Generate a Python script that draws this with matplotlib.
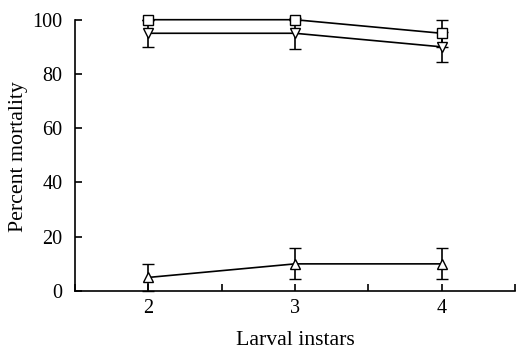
import matplotlib
matplotlib.use("Agg")
import matplotlib.pyplot as plt
from matplotlib.ticker import MultipleLocator

instars = [2, 3, 4]
sq_vals = [100, 100, 95]
sq_err = [0, 0, 5]
tdown_vals = [95, 95, 90]
tdown_err = [5, 5.8, 5.6]
tup_vals = [5, 10, 10]
tup_err = [5, 5.7, 5.7]

plt.rcParams['font.family'] = ['Liberation Serif', 'DejaVu Serif']

fig = plt.figure(figsize=(5.16, 3.49), dpi=100)
ax = fig.add_axes([75/516, (349-291)/349, (515-75)/516, (291-17)/349])

common = dict(color='black', lw=1.2, elinewidth=1.2, capsize=4, capthick=1.2,
              markerfacecolor='white', markeredgecolor='black', markeredgewidth=1.0,
              markersize=6.5, clip_on=False)
for vals, errs, mk in [(tup_vals, tup_err, '^'), (tdown_vals, tdown_err, 'v'), (sq_vals, sq_err, 's')]:
    cont = ax.errorbar(instars, vals, yerr=errs, marker=mk, **common)
    for art in cont.get_children():
        art.set_clip_on(False)

ax.set_xlim(1.5, 4.5)
ax.set_ylim(0, 101)
ax.spines['top'].set_visible(False)
ax.spines['right'].set_visible(False)
ax.spines['left'].set_bounds(0, 100)
for s in ['left', 'bottom']:
    ax.spines[s].set_linewidth(1.2)
ax.set_xticks([2, 3, 4])
ax.xaxis.set_minor_locator(MultipleLocator(0.5))
ax.set_yticks([0, 20, 40, 60, 80, 100])
ax.tick_params(direction='in', length=5, width=1.2, labelsize=14.5)
ax.tick_params(axis='y', pad=9)
ax.tick_params(axis='x', pad=6)
ax.tick_params(which='minor', direction='in', length=5, width=1.2)
ax.set_xlabel('Larval instars', fontsize=15.7, labelpad=9)
ax.set_ylabel('Percent mortality', fontsize=15.7)
ax.yaxis.set_label_coords(-0.107, 0.49)

fig.savefig('out.png', dpi=100)
